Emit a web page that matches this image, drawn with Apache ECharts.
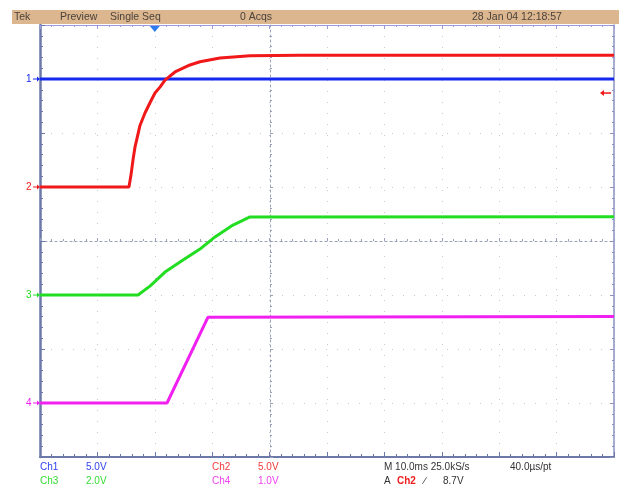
<!DOCTYPE html>
<html><head><meta charset="utf-8">
<script src="https://cdn.jsdelivr.net/npm/echarts@6/dist/echarts.min.js"></script>
<style>html,body{margin:0;padding:0;background:#fff}#c{width:619px;height:486px}</style>
</head><body><div id="c"></div>
<script>
// time in ms (trigger at 0), voltages in V
const ch1T = [-20, 80];
const ch1V = [0, 0];
const ch2T = [-20, -4.5, -4.15, -3.8, -3.45, -2.58, -1.71, -0.84, 0.03, 0.9, 1.78, 3.52, 6.13, 7.87, 11.36, 16.59, 25.3, 80];
const ch2V = [0, 0, 1.1, 2.5, 3.7, 5.7, 6.85, 7.8, 8.7, 9.25, 9.9, 10.65, 11.3, 11.6, 11.95, 12.15, 12.2, 12.2];
const ch3T = [-20, -2.93, -0.84, 1.78, 4.39, 7.87, 10.49, 13.62, 16.59, 80];
const ch3V = [0, 0, 0.33, 0.85, 1.22, 1.70, 2.15, 2.59, 2.89, 2.9];
const ch4T = [-20, 2.13, 9.27, 80];
const ch4V = [0, 0, 1.59, 1.6];
// channel settings: volts/div and ground position (divisions from bottom)
const chScale = [5.0, 5.0, 2.0, 1.0];
const chGround = [7, 5, 3, 1];
const chColor = ['#1428f0', '#f01818', '#22dd22', '#f020f0'];
const trigLevel = 8.7;
const headerTexts = ['Tek', 'Preview', 'Single Seq', '0 Acqs', '28 Jan 04 12:18:57'];
const footerRow1 = ['Ch1', '5.0V', 'Ch2', '5.0V', 'M 10.0ms 25.0kS/s', '40.0\u00b5s/pt'];
const footerRow2 = ['Ch3', '2.0V', 'Ch4', '1.0V', 'A', 'Ch2', '\u2215', '8.7V'];

function toDiv(i, T, V) { return T.map((t, k) => [t, chGround[i] + V[k] / chScale[i]]); }

const chart = echarts.init(document.getElementById('c'), null, {renderer: 'canvas'});
const borderCol = '#6b78a8';
const gridDot = {show: true, lineStyle: {color: '#c4c8d8', type: [1, 10], width: 1}};
const baseX = {type: 'value', min: -20, max: 80, interval: 10, axisLabel: {show: false}};
const baseY = {type: 'value', min: 0, max: 8, interval: 1, axisLabel: {show: false}};
const lineSeries = (i, T, V) => ({
  type: 'line', data: toDiv(i, T, V), showSymbol: false, symbol: 'none', animation: false,
  lineStyle: {color: chColor[i], width: 3}, z: 3 + i
});
chart.setOption({
  animation: false,
  backgroundColor: '#fff',
  grid: {left: 40, top: 25, width: 574, height: 432},
  xAxis: [
    Object.assign({}, baseX, {position: 'bottom', axisLine: {onZero: false, lineStyle: {color: borderCol, width: 2}},
      axisTick: {show: true, inside: true, length: 5, lineStyle: {color: borderCol}},
      minorTick: {show: true, splitNumber: 5, length: 3, lineStyle: {color: borderCol}},
      splitLine: gridDot}),
    Object.assign({}, baseX, {position: 'top', axisLine: {onZero: false, lineStyle: {color: '#9a9ae0', width: 1}},
      axisTick: {show: true, inside: true, length: 4, lineStyle: {color: '#9a9ae0'}},
      minorTick: {show: true, splitNumber: 5, length: 2, lineStyle: {color: '#9a9ae0'}},
      splitLine: {show: false}}),
    Object.assign({}, baseX, {position: 'bottom', offset: -216, axisLine: {onZero: false, lineStyle: {color: '#9aa0b8', width: 1, type: [2, 3]}},
      axisTick: {show: true, inside: true, length: 3, lineStyle: {color: '#9aa0b8'}},
      minorTick: {show: true, splitNumber: 5, length: 2, lineStyle: {color: '#9aa0b8'}},
      splitLine: {show: false}})
  ],
  yAxis: [
    Object.assign({}, baseY, {position: 'left', axisLine: {show: true, onZero: false, lineStyle: {color: borderCol, width: 2.5}},
      axisTick: {show: true, inside: true, length: 5, lineStyle: {color: borderCol}},
      minorTick: {show: true, splitNumber: 5, length: 3, lineStyle: {color: borderCol}},
      splitLine: gridDot}),
    Object.assign({}, baseY, {position: 'right', axisLine: {show: true, onZero: false, lineStyle: {color: '#8a90c0', width: 1.5}},
      axisTick: {show: true, inside: true, length: 4, lineStyle: {color: '#8a90c0'}},
      minorTick: {show: true, splitNumber: 5, length: 2, lineStyle: {color: '#8a90c0'}},
      splitLine: {show: false}}),
    Object.assign({}, baseY, {position: 'left', offset: -230, axisLine: {show: true, onZero: false, lineStyle: {color: '#9aa0b8', width: 1, type: [2, 3]}},
      axisTick: {show: true, inside: true, length: 3, lineStyle: {color: '#9aa0b8'}},
      minorTick: {show: true, splitNumber: 5, length: 2, lineStyle: {color: '#9aa0b8'}},
      splitLine: {show: false}})
  ],
  series: [
    lineSeries(0, ch1T, ch1V),
    lineSeries(2, ch3T, ch3V),
    lineSeries(3, ch4T, ch4V),
    lineSeries(1, ch2T, ch2V)
  ]
});

const px = (t, d) => chart.convertToPixel({xAxisIndex: 0, yAxisIndex: 0}, [t, d]);
const g = [];
// header bar
g.push({type: 'rect', shape: {x: 12, y: 10, width: 607, height: 14}, style: {fill: '#dcb68e'}, z: 1});
const hx = [14, 60, 110, 240, 472];
const hfont = '10.5px "Liberation Sans", Arial, sans-serif';
headerTexts.forEach((s, i) => g.push({type: 'text', x: hx[i], y: 17, style: {text: s, font: hfont, fill: '#4a423c', textVerticalAlign: 'middle'}, z: 2}));
// trigger position marker
const tp = px(0, 8);
g.push({type: 'polygon', shape: {points: [[tp[0] - 5, tp[1] + 1], [tp[0] + 5, tp[1] + 1], [tp[0], tp[1] + 7]]}, style: {fill: '#2a7cf0'}, z: 10});
// channel ground markers
chGround.forEach((d, i) => {
  const p = px(-20, d);
  g.push({type: 'text', x: p[0] - 14, y: p[1], style: {text: String(i + 1), font: '10px "Liberation Sans", Arial, sans-serif', fill: chColor[i], textVerticalAlign: 'middle'}, z: 10});
  g.push({type: 'line', shape: {x1: p[0] - 7, y1: p[1], x2: p[0] - 1, y2: p[1]}, style: {stroke: chColor[i], lineWidth: 1}, z: 10});
  g.push({type: 'polygon', shape: {points: [[p[0] - 3, p[1] - 2.5], [p[0], p[1]], [p[0] - 3, p[1] + 2.5]]}, style: {fill: chColor[i]}, z: 10});
});
// trigger level marker (right side, on Ch2)
const tl = px(80, chGround[1] + trigLevel / chScale[1]);
g.push({type: 'line', shape: {x1: tl[0] - 12, y1: tl[1], x2: tl[0] - 3, y2: tl[1]}, style: {stroke: '#f01818', lineWidth: 1.5}, z: 10});
g.push({type: 'polygon', shape: {points: [[tl[0] - 14, tl[1]], [tl[0] - 10, tl[1] - 3], [tl[0] - 10, tl[1] + 3]]}, style: {fill: '#f01818'}, z: 10});
// footer
const ffont = '10px "Liberation Sans", Arial, sans-serif';
const f1x = [40, 86, 212, 258, 384, 510];
const f1c = ['#3044ee', '#3044ee', '#f03a3a', '#f03a3a', '#333', '#333'];
footerRow1.forEach((s, i) => g.push({type: 'text', x: f1x[i], y: 467, style: {text: s, font: ffont, fill: f1c[i], textVerticalAlign: 'middle'}}));
const f2x = [40, 86, 212, 258, 384, 397, 424, 443];
const f2c = ['#33dd33', '#33dd33', '#f040f0', '#f040f0', '#333', '#f02020', '#333', '#333'];
footerRow2.forEach((s, i) => g.push({type: 'text', x: f2x[i], y: 481, style: {text: s, font: (i === 5 ? 'bold ' : '') + ffont, fill: f2c[i], textVerticalAlign: 'middle'}}));
chart.setOption({graphic: g});
</script></body></html>
